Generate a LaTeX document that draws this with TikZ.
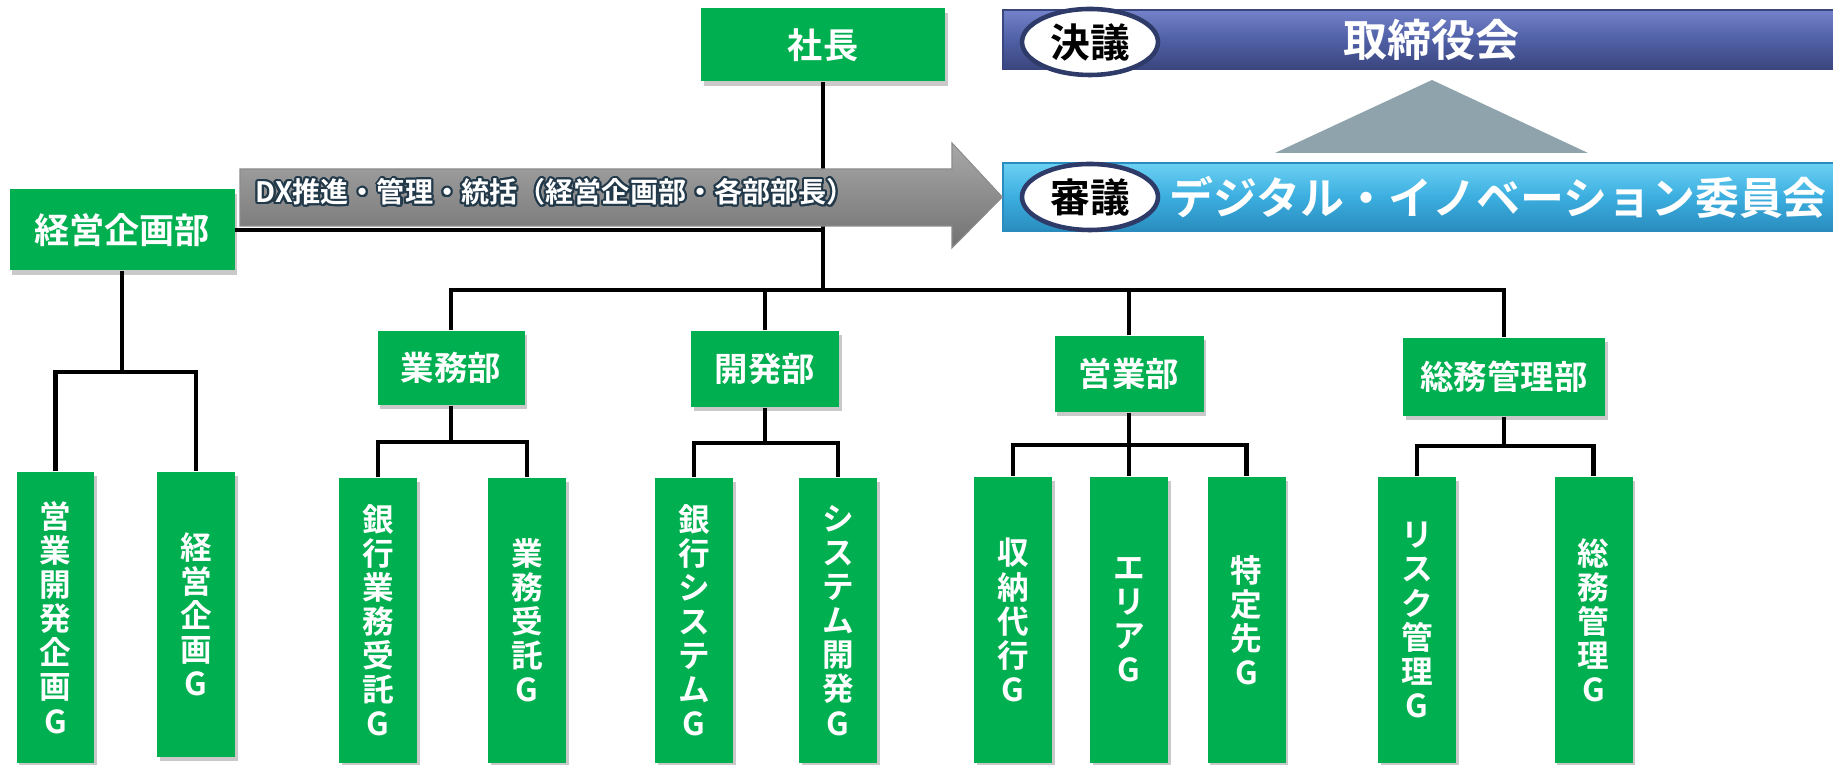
\documentclass[tikz,border=0pt]{standalone}
\usepackage{fontspec}
\setmainfont{Noto Sans CJK JP}[BoldFont={Noto Sans CJK JP Bold}]
\usepackage[copies]{contour}
\usetikzlibrary{positioning,shapes.geometric,shadows,calc}
\definecolor{orggreen}{HTML}{00AF50}
\definecolor{tagnavy}{HTML}{2E3A68}
\definecolor{boardtop}{HTML}{7483C9}
\definecolor{boardmid}{HTML}{5060A6}
\definecolor{boardbot}{HTML}{3A467E}
\definecolor{comtop}{HTML}{6BD0F3}
\definecolor{commid}{HTML}{3BAEDF}
\definecolor{combot}{HTML}{2A8CBE}
\definecolor{tricolor}{HTML}{8FA3AC}
\definecolor{arrowtop}{HTML}{A8A8A8}
\definecolor{arrowbot}{HTML}{727272}
\definecolor{glow}{HTML}{22394A}
\contourlength{0.6pt}

\begin{document}
\begin{tikzpicture}[x=0.1mm,y=-0.1mm,
  box/.style={fill=orggreen, text=white, inner sep=0pt,
    drop shadow={shadow xshift=0.25mm, shadow yshift=-0.45mm, opacity=0.3, fill=black!70}},
  dept/.style={box, font=\fontsize{9.5}{11}\selectfont\bfseries},
  grp/.style={box, minimum width=7.8mm, align=center,
    font=\fontsize{9}{9.7}\selectfont\bfseries},
  conn/.style={line width=1.3pt, black},
  tag/.style={ellipse, draw=tagnavy, line width=1.3pt, fill=white, text=black,
    minimum width=13.6mm, minimum height=6.6mm, inner sep=0pt,
    font=\fontsize{11.3}{12}\selectfont\bfseries},
  bar/.style={inner sep=0pt, minimum width=85.7mm, text=white,
    font=\fontsize{12.5}{14}\selectfont\bfseries}
]
\clip (0,0) rectangle (1833,765);

% top of the chart
\node[dept, minimum width=24.4mm, minimum height=7.3mm, font=\fontsize{10}{12}\selectfont\bfseries] (ceo) at (823,45) {社長};
\node[dept, minimum width=22.5mm, minimum height=8.1mm, font=\fontsize{10}{12}\selectfont\bfseries] (plan) at (122,230) {経営企画部};

% departments
\node[dept, minimum width=14.7mm, minimum height=7.4mm] (gyomu) at (451,368) {業務部};
\node[dept, minimum width=14.8mm, minimum height=7.6mm] (kaihatsu) at (765,369) {開発部};
\node[dept, minimum width=14.9mm, minimum height=7.6mm] (eigyo) at (1129,374) {営業部};
\node[dept, minimum width=20.2mm, minimum height=7.8mm] (somu) at (1504,377) {総務管理部};

% groups
\node[grp, minimum height=29.1mm] (eikaku) at (55.5,617.5) {営\\業\\開\\発\\企\\画\\G};
\node[grp, minimum height=28.5mm] (keikaku) at (196,614.5) {経\\営\\企\\画\\G};
\node[grp, minimum height=28.5mm] (ginko) at (378,620.5) {銀\\行\\業\\務\\受\\託\\G};
\node[grp, minimum height=28.5mm] (jutaku) at (527,620.5) {業\\務\\受\\託\\G};
\node[grp, minimum height=28.5mm] (ginsys) at (694,620.5) {銀\\行\\シ\\ス\\テ\\ム\\G};
\node[grp, minimum height=28.5mm] (sysdev) at (838,620.5) {シ\\ス\\テ\\ム\\開\\発\\G};
\node[grp, minimum height=28.6mm] (shuno) at (1013,620) {収\\納\\代\\行\\G};
\node[grp, minimum height=28.6mm] (area) at (1129,620) {エ\\リ\\ア\\G};
\node[grp, minimum height=28.6mm] (tokutei) at (1246.5,620) {特\\定\\先\\G};
\node[grp, minimum height=28.6mm] (risk) at (1417,620) {リ\\ス\\ク\\管\\理\\G};
\node[grp, minimum height=28.6mm] (somug) at (1593.5,620) {総\\務\\管\\理\\G};

% connectors
\coordinate (topbus) at (823,290);
\coordinate (planbus) at (122,372);
\coordinate (gyomubus) at (451,442);
\coordinate (kaihatsubus) at (765,443);
\coordinate (eigyobus) at (1129,445);
\coordinate (somubus) at (1504,446);

\draw[conn] (ceo.south) -- (topbus);
\draw[conn] (gyomu.north) |- (topbus) -| (somu.north);
\draw[conn] (kaihatsu.north) -- (kaihatsu.north |- topbus);
\draw[conn] (eigyo.north) -- (eigyo.north |- topbus);
\draw[conn] (plan.east) -- (plan.east -| ceo.south);

\draw[conn] (plan.south) -- (planbus);
\draw[conn] (eikaku.north) |- (planbus) -| (keikaku.north);
\draw[conn] (gyomu.south) -- (gyomubus);
\draw[conn] (ginko.north) |- (gyomubus) -| (jutaku.north);
\draw[conn] (kaihatsu.south) -- (kaihatsubus);
\draw[conn] (ginsys.north) |- (kaihatsubus) -| (sysdev.north);
\draw[conn] (eigyo.south) -- (area.north);
\draw[conn] (shuno.north) |- (eigyobus) -| (tokutei.north);
\draw[conn] (somu.south) -- (somubus);
\draw[conn] (risk.north) |- (somubus) -| (somug.north);

% board and committee
\node[bar, minimum height=5.9mm, top color=boardtop, bottom color=boardbot, middle color=boardmid, draw=boardbot] (board) at (1431.5,39.5) {取締役会};
\node[bar, minimum height=6.8mm, top color=comtop, bottom color=combot, middle color=commid, draw=combot] (committee) at (1431.5,197) {};
\node[bar, minimum width=0pt, anchor=west] (comtext) at (1169,197) {デジタル・イノベーション委員会};
\node[tag] (ketsugi) at (1090,42) {決議};
\node[tag] (shingi) at (1090,197) {審議};
\fill[tricolor] (1275,153) -- (1432,80) -- (1588,153) -- cycle;

% DX arrow
\shade[top color=arrowtop, bottom color=arrowbot, draw=black!45, line width=0.3pt]
  (240,169) -- (952,169) -- (952,143) -- (committee.west) -- (952,248) -- (952,226) -- (240,226) -- cycle;
\node[anchor=west, inner sep=0pt, text=white, font=\fontsize{8}{9}\selectfont\bfseries] (dxlabel) at (255,193)
  {\contour{glow}{DX推進・管理・統括（経営企画部・各部部長）}};

\end{tikzpicture}
\end{document}
